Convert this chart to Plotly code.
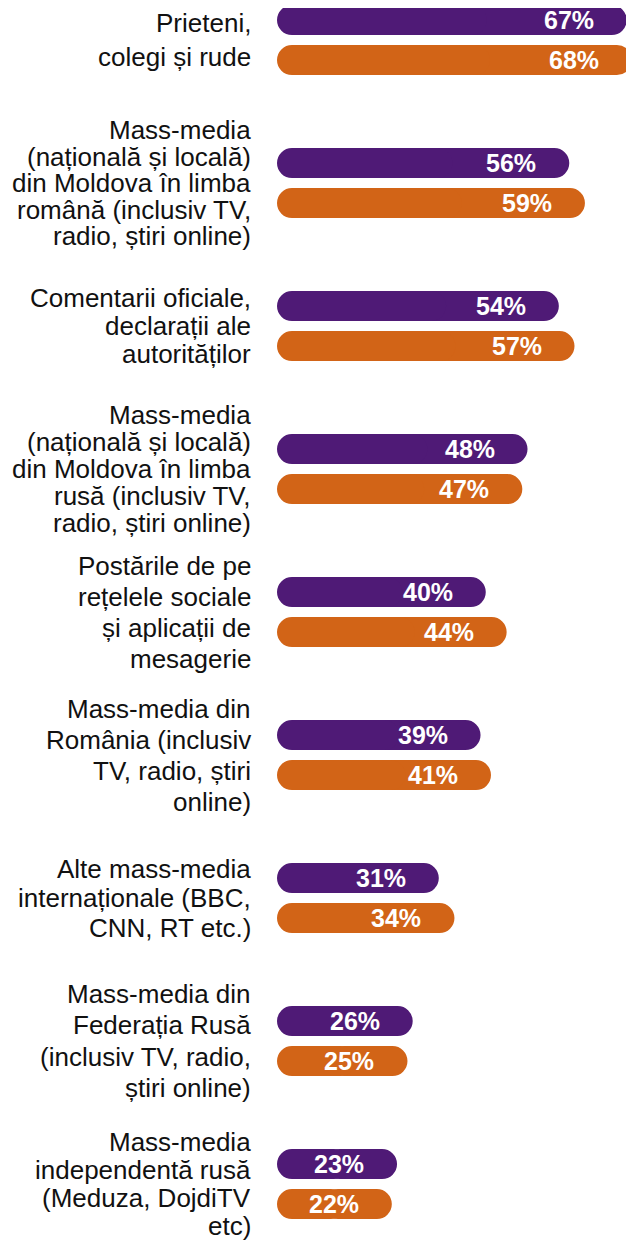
import plotly.graph_objects as go

categories = [
    "Prieteni,<br>colegi și rude",
    "Mass-media<br>(națională și locală)<br>din Moldova în limba<br>română (inclusiv TV,<br>radio, știri online)",
    "Comentarii oficiale,<br>declarații ale<br>autorităților",
    "Mass-media<br>(națională și locală)<br>din Moldova în limba<br>rusă (inclusiv TV,<br>radio, știri online)",
    "Postările de pe<br>rețelele sociale<br>și aplicații de<br>mesagerie",
    "Mass-media din<br>România (inclusiv<br>TV, radio, știri<br>online)",
    "Alte mass-media<br>internaționale (BBC,<br>CNN, RT etc.)",
    "Mass-media din<br>Federația Rusă<br>(inclusiv TV, radio,<br>știri online)",
    "Mass-media<br>independentă rusă<br>(Meduza, DojdiTV<br>etc)",
]
series_a = [67, 56, 54, 48, 40, 39, 31, 26, 23]  # purple
series_b = [68, 59, 57, 47, 44, 41, 34, 25, 22]  # orange

# style: line spacing (px) of each category label block
LINE_GAP = [34, 26.5, 27.7, 27, 31, 31, 29.5, 31.3, 27.8]

PURPLE = "#4F1A76"
ORANGE = "#D26417"
FONT = "Liberation Sans, Arial, sans-serif"

fig = go.Figure()

for vals, color, offset, yshift in [
    (series_a, PURPLE, -0.245, 20),
    (series_b, ORANGE, 0.035, -20),
]:
    # right part: rounded at the value end
    fig.add_trace(go.Bar(
        y=categories, x=[v * 0.6 for v in vals], base=[v * 0.4 for v in vals],
        orientation="h", marker=dict(color=color, cornerradius=15, line=dict(width=0)),
        offset=offset, width=0.21, hoverinfo="skip", showlegend=False,
    ))
    # left part: rounded at zero end
    fig.add_trace(go.Bar(
        y=categories, x=[-v * 0.6 for v in vals], base=[v * 0.6 for v in vals],
        orientation="h", marker=dict(color=color, cornerradius=15, line=dict(width=0)),
        offset=offset, width=0.21, hoverinfo="skip", showlegend=False,
    ))
    for c, v in zip(categories, vals):
        fig.add_annotation(
            x=v, y=c, text=f"<b>{v}%</b>", showarrow=False, xanchor="right",
            xshift=-31, yshift=yshift,
            font=dict(family=FONT, size=25, color="white"),
        )

# category labels, one annotation per line
for c, gap in zip(categories, LINE_GAP):
    lines = c.split("<br>")
    n = len(lines)
    for i, line in enumerate(lines):
        fig.add_annotation(
            x=0, y=c, text=line, showarrow=False, xanchor="right", yanchor="middle",
            xshift=-24, yshift=((n - 1) / 2 - i) * gap,
            font=dict(family=FONT, size=26, color="#111111"),
        )

fig.update_layout(
    width=634, height=1247,
    margin=dict(l=269, r=8, t=0, b=0),
    barmode="overlay",
    plot_bgcolor="white", paper_bgcolor="white",
    xaxis=dict(range=[0, 68.4], visible=False, fixedrange=True),
    yaxis=dict(
        range=[8.496, -0.224], showgrid=False, zeroline=False, showline=False,
        ticks="", showticklabels=False, automargin=False,
    ),
)

fig.write_html("out.html")
